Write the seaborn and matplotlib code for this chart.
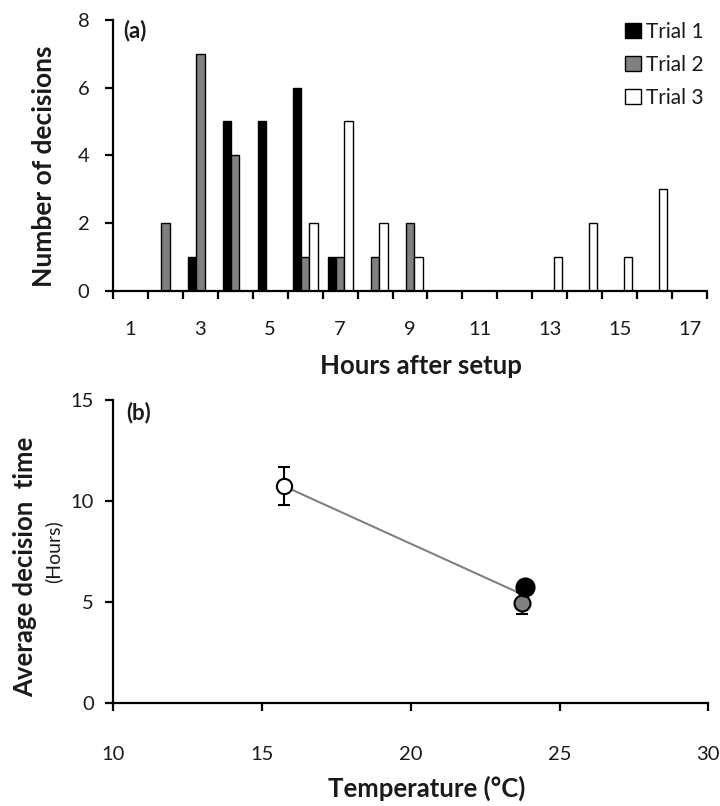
import numpy as np
import pandas as pd
import matplotlib
matplotlib.use("Agg")
import matplotlib.pyplot as plt
import seaborn as sns
from matplotlib.patches import Patch

# ---------------- data ----------------
hours = [str(h) for h in range(1, 18)]
trial1 = [0, 0, 1, 5, 5, 6, 1, 0, 0, 0, 0, 0, 0, 0, 0, 0, 0]
trial2 = [0, 2, 7, 4, 0, 1, 1, 1, 2, 0, 0, 0, 0, 0, 0, 0, 0]
trial3 = [0, 0, 0, 0, 0, 2, 5, 2, 1, 0, 0, 0, 1, 2, 1, 3, 0]
trial_names = ["Trial 1", "Trial 2", "Trial 3"]
hour_tick_labels = ["1", "3", "5", "7", "9", "11", "13", "15", "17"]

temps = [23.85, 23.73, 15.75]
mean_time = [5.73, 4.94, 10.73]
err_time = [0.3, 0.55, 0.95]

colors = ["#000000", "#808080", "#ffffff"]

df_a = pd.DataFrame({
    "hour": hours * 3,
    "count": trial1 + trial2 + trial3,
    "trial": sum([[n] * len(hours) for n in trial_names], []),
})
df_b = pd.DataFrame({"temp": temps, "time": mean_time, "err": err_time, "trial": trial_names})

# ---------------- style ----------------
sns.set_theme(style="white")
plt.rcParams["font.family"] = ["Lato", "DejaVu Sans"]
plt.rcParams["axes.linewidth"] = 1.6
plt.rcParams["text.color"] = "#1a1a1a"

fig = plt.figure(figsize=(7.2, 8.06), dpi=100)
TICK_FS = 14.5
LAB_FS = 18.5

# ---------------- panel (a) ----------------
axa = fig.add_axes([113 / 720, 1 - 290.5 / 806, 594 / 720, 270.5 / 806])
sns.barplot(data=df_a, x="hour", y="count", hue="trial", order=hours,
            hue_order=trial_names, palette=colors, width=0.72,
            edgecolor="black", linewidth=1.0, ax=axa, legend=False)
axa.set_xlim(-0.5, 16.5)
axa.set_ylim(0, 8)
axa.set_yticks([0, 2, 4, 6, 8])
axa.set_xticks(np.arange(0, 17, 2))
axa.set_xticklabels(hour_tick_labels)
axa.set_xticks(np.arange(-0.5, 17, 1), minor=True)
axa.tick_params(axis="x", which="major", length=0, pad=22, labelsize=TICK_FS, colors="#1a1a1a")
axa.tick_params(axis="x", which="minor", length=6, width=1.6, direction="out", color="black", bottom=True)
axa.tick_params(axis="y", length=6, width=1.6, direction="out", color="black", left=True,
                pad=11, labelsize=TICK_FS, labelcolor="#1a1a1a")
for s in ["top", "right"]:
    axa.spines[s].set_visible(False)
for s in ["left", "bottom"]:
    axa.spines[s].set_color("black")
axa.set_xlabel("")
axa.set_ylabel("")
fig.text(421 / 720, 1 - 366 / 806, "Hours after setup", ha="center", va="center",
         fontsize=LAB_FS, fontweight="bold")
fig.text(44 / 720, 1 - 166 / 806, "Number of decisions", ha="center", va="center",
         rotation=90, fontsize=LAB_FS + 0.5, fontweight="bold")
fig.text(135 / 720, 1 - 31 / 806, "(a)", ha="center", va="center",
         fontsize=16, fontweight="bold")

handles = [Patch(facecolor=c, edgecolor="black", linewidth=1.0) for c in colors]
axa.legend(handles, trial_names, loc="upper left", bbox_to_anchor=(625 / 720, 1 - 22 / 806),
           bbox_transform=fig.transFigure,
           frameon=False, fontsize=15, handlelength=0.75, handleheight=0.75,
           handletextpad=0.25, labelspacing=0.62, borderaxespad=0.0, borderpad=0.0)

# ---------------- panel (b) ----------------
axb = fig.add_axes([113.3 / 720, 1 - 702.7 / 806, 595 / 720, 302.7 / 806])
sns.regplot(data=df_b, x="temp", y="time", ci=None, scatter=False, truncate=True,
            line_kws={"color": "#808080", "linewidth": 1.5, "zorder": 1}, ax=axb)
sizes = {"Trial 1": 13.0, "Trial 2": 11.5, "Trial 3": 11}
for i in [2, 1, 0]:
    r = df_b.iloc[i]
    axb.errorbar(r["temp"], r["time"], yerr=r["err"], fmt="none", ecolor="black",
                 elinewidth=1.5, capsize=4.3, capthick=1.5, zorder=2 + (2 - i))
    sns.scatterplot(x=[r["temp"]], y=[r["time"]], color=colors[i], edgecolor="black",
                    linewidth=1.5, s=sizes[r["trial"]] ** 2, ax=axb, zorder=3 + (2 - i),
                    legend=False)
axb.set_xlim(10, 30)
axb.set_ylim(0, 15)
axb.set_xticks([10, 15, 20, 25, 30])
axb.set_yticks([0, 5, 10, 15])
axb.tick_params(axis="x", length=6, width=1.6, direction="out", color="black", bottom=True,
                pad=25, labelsize=TICK_FS, labelcolor="#1a1a1a")
axb.tick_params(axis="y", length=6, width=1.6, direction="out", color="black", left=True,
                pad=8, labelsize=TICK_FS, labelcolor="#1a1a1a")
for s in ["top", "right"]:
    axb.spines[s].set_visible(False)
for s in ["left", "bottom"]:
    axb.spines[s].set_color("black")
axb.set_xlabel("")
axb.set_ylabel("")
fig.text(427 / 720, 1 - 788 / 806, "Temperature (°C)", ha="center", va="center",
         fontsize=LAB_FS, fontweight="bold")
fig.text(25 / 720, 1 - 567 / 806, "Average decision  time", ha="center", va="center",
         rotation=90, fontsize=LAB_FS, fontweight="bold")
fig.text(53 / 720, 1 - 552 / 806, "(Hours)", ha="center", va="center",
         rotation=90, fontsize=14)
fig.text(139 / 720, 1 - 413 / 806, "(b)", ha="center", va="center",
         fontsize=16, fontweight="bold")

fig.savefig("out.png", dpi=100)
